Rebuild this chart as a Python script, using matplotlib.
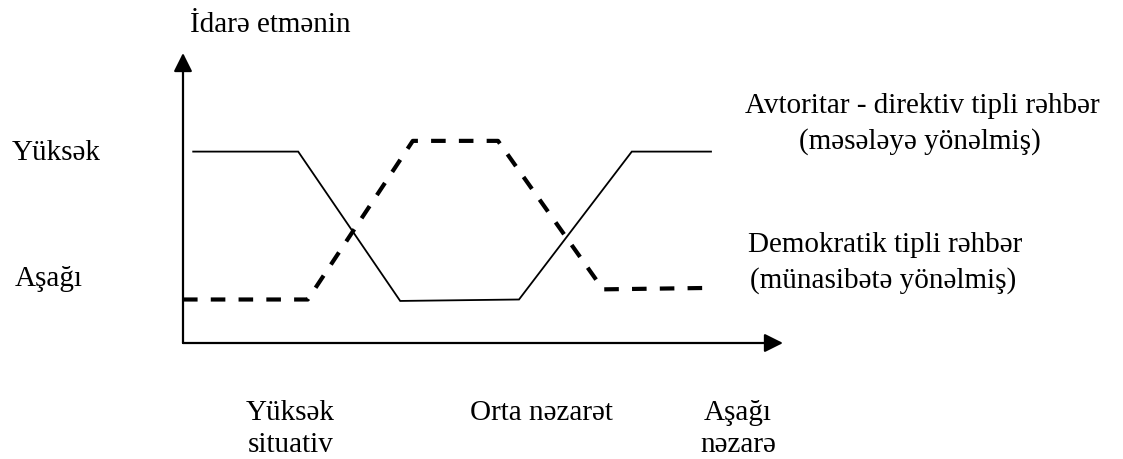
import matplotlib.pyplot as plt

plt.rcParams['font.family'] = ['Liberation Serif', 'DejaVu Serif']
plt.rcParams['lines.scale_dashes'] = False

# Idarəetmə üslubu sxemi (şərti vahidlər: x 0..10, y 0..10)
avtoritar_x = [0.17, 1.92, 3.62, 5.6, 7.48, 8.8]
avtoritar_y = [6.6, 6.6, 1.45, 1.5, 6.6, 6.6]

demokratik_x = [0.0, 2.08, 3.83, 5.25, 7.0, 8.8]
demokratik_y = [1.5, 1.5, 6.97, 6.97, 1.85, 1.9]

W, H = 1123, 459
fig = plt.figure(figsize=(W / 100, H / 100), dpi=100)
ax = fig.add_axes([183 / W, (H - 343) / H, 600 / W, 290 / H])
ax.set_xlim(0, 10)
ax.set_ylim(0, 10)
ax.axis('off')

ax.plot(avtoritar_x, avtoritar_y, color='black', lw=1.3, solid_joinstyle='miter')
dash, = ax.plot(demokratik_x, demokratik_y, color='black', lw=3.0)
dash.set_dashes([10.5, 9.5])

# Oxlar
arrow = dict(arrowstyle='-|>', color='black', lw=1.6, mutation_scale=28,
             shrinkA=0, shrinkB=0)
ax.annotate('', xy=(0, 1.0), xytext=(0, 0), xycoords='axes fraction',
            arrowprops=arrow, annotation_clip=False)
ax.annotate('', xy=(1.0, 0), xytext=(0, 0), xycoords='axes fraction',
            arrowprops=arrow, annotation_clip=False)

fs = 21


def label(x, y, s, ha='left'):
    fig.text(x / W, 1 - y / H, s, ha=ha, va='baseline', fontsize=fs)


label(190, 32, 'İdarə etmənin')
label(12, 160, 'Yüksək')
label(15, 286, 'Aşağı')

label(922, 113, 'Avtoritar - direktiv tipli rəhbər', ha='center')
label(920, 149, '(məsələyə yönəlmiş)', ha='center')
label(885, 252, 'Demokratik tipli rəhbər', ha='center')
label(883, 288, '(münasibətə yönəlmiş)', ha='center')

label(290, 420, 'Yüksək', ha='center')
label(291, 452, 'situativ', ha='center')
label(541, 420, 'Orta nəzarət', ha='center')
label(738, 420, 'Aşağı', ha='center')
label(738, 452, 'nəzarə', ha='center')

fig.savefig('out.png', dpi=100)
